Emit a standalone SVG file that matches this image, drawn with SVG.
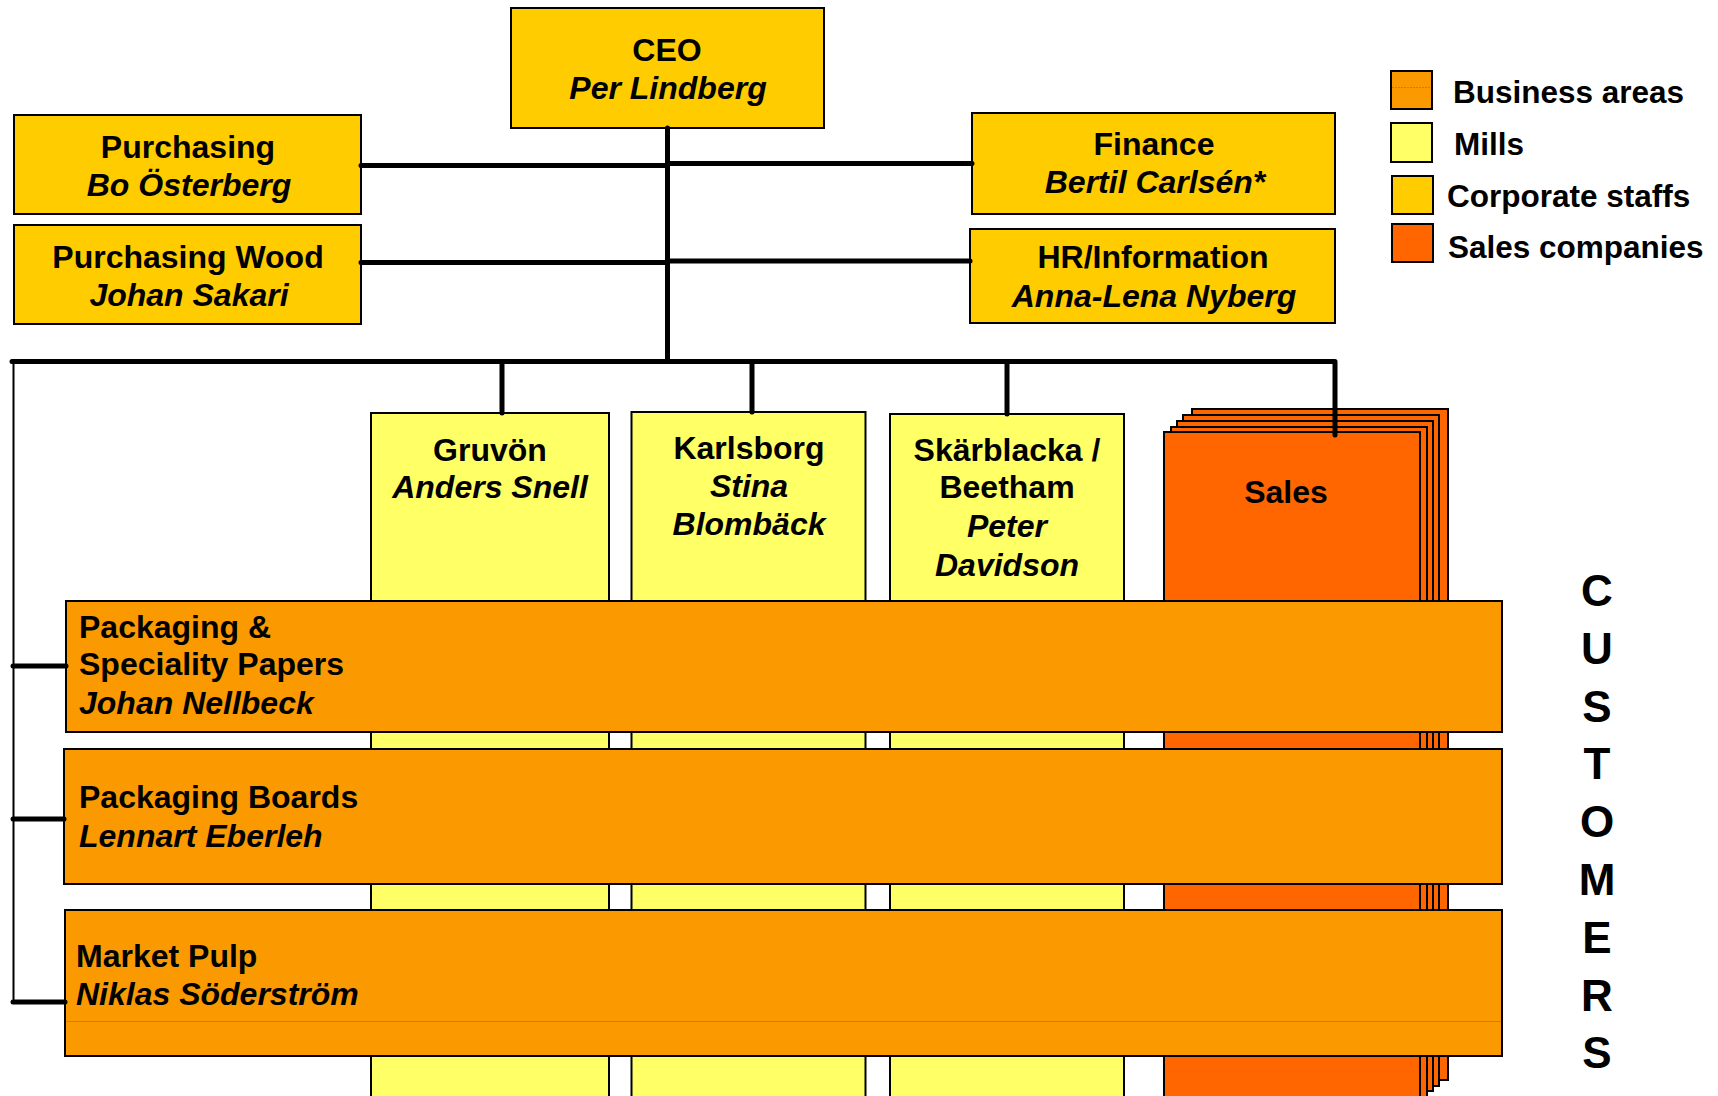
<svg xmlns="http://www.w3.org/2000/svg" width="1718" height="1096" viewBox="0 0 1718 1096">
<style>
text{font-family:"Liberation Sans",Arial,sans-serif;font-weight:bold;font-size:32px;fill:#000}
.c{text-anchor:middle}
.i{font-style:italic}
.leg{font-size:31.5px}
.staff{fill:#FFCC00;stroke:#000;stroke-width:2}
.mill{fill:#FFFF66;stroke:#000;stroke-width:2}
.sales{fill:#FF6600;stroke:#000;stroke-width:2}
.ba{fill:#FA9A00;stroke:#000;stroke-width:2}
.thick{stroke:#000;stroke-width:5;fill:none;stroke-linecap:round;stroke-linejoin:round}
.thin{stroke:#000;stroke-width:2;fill:none}
.grey{stroke:#888;stroke-width:1.2}
.cust{font-size:44px}
</style>
<rect width="1718" height="1096" fill="#fff"/>

<g id="mill-gruvon">
<rect class="mill" x="371" y="413" width="238" height="700"/>
<text class="c" x="490" y="461">Gruvön</text>
<text class="c i" x="490" y="498">Anders Snell</text>
</g>
<g id="mill-karlsborg">
<rect class="mill" x="631.5" y="412" width="234" height="700"/>
<text class="c" x="749" y="459">Karlsborg</text>
<text class="c i" x="749" y="497">Stina</text>
<text class="c i" x="749" y="535">Blombäck</text>
</g>
<g id="mill-skarblacka">
<rect class="mill" x="890" y="414" width="234" height="700"/>
<text class="c" x="1007" y="461">Skärblacka /</text>
<text class="c" x="1007" y="498">Beetham</text>
<text class="c i" x="1007" y="537">Peter</text>
<text class="c i" x="1007" y="576">Davidson</text>
</g>
<g id="sales">
<rect class="sales" x="1192" y="409" width="256" height="671"/>
<rect class="sales" x="1183" y="415" width="256" height="671"/>
<rect class="sales" x="1177" y="421" width="256" height="670"/>
<rect class="sales" x="1171" y="427" width="256" height="680"/>
<rect class="sales" x="1164" y="432" width="256" height="680"/>
<text class="c" x="1286" y="503">Sales</text>
</g>

<g id="ba-packaging-papers">
<rect class="ba" x="66" y="601" width="1436" height="131"/>
<text x="79" y="638">Packaging &amp;</text>
<text x="79" y="675">Speciality Papers</text>
<text class="i" x="79" y="714">Johan Nellbeck</text>
</g>
<g id="ba-packaging-boards">
<rect class="ba" x="64" y="749" width="1438" height="135"/>
<text x="79" y="808">Packaging Boards</text>
<text class="i" x="79" y="847">Lennart Eberleh</text>
</g>
<g id="ba-market-pulp">
<rect class="ba" x="65" y="910" width="1437" height="146"/>
<line class="grey" x1="66" y1="1021.5" x2="1501" y2="1021.5"/>
<text x="76" y="967">Market Pulp</text>
<text class="i" x="76" y="1005">Niklas Söderström</text>
</g>

<g id="ceo">
<rect class="staff" x="511" y="8" width="313" height="120"/>
<text class="c" x="667" y="61">CEO</text>
<text class="c i" x="668" y="99">Per Lindberg</text>
</g>
<g id="purchasing">
<rect class="staff" x="14" y="115" width="347" height="99"/>
<text class="c" x="188" y="158">Purchasing</text>
<text class="c i" x="189" y="196">Bo Österberg</text>
</g>
<g id="purchasing-wood">
<rect class="staff" x="14" y="225" width="347" height="99"/>
<text class="c" x="188" y="268">Purchasing Wood</text>
<text class="c i" x="189" y="306">Johan Sakari</text>
</g>
<g id="finance">
<rect class="staff" x="972" y="113" width="363" height="101"/>
<text class="c" x="1154" y="155">Finance</text>
<text class="c i" x="1155" y="193">Bertil Carlsén*</text>
</g>
<g id="hr">
<rect class="staff" x="970" y="229" width="365" height="94"/>
<text class="c" x="1153" y="268">HR/Information</text>
<text class="c i" x="1154" y="307">Anna-Lena Nyberg</text>
</g>

<g id="connectors">
<line class="thick" x1="667.5" y1="128" x2="667.5" y2="361.5"/>
<line class="thick" x1="361" y1="165.5" x2="667.5" y2="165.5"/>
<line class="thick" x1="667.5" y1="163.5" x2="972" y2="163.5"/>
<line class="thick" x1="361" y1="262.5" x2="667.5" y2="262.5"/>
<line class="thick" x1="667.5" y1="261" x2="970" y2="261"/>
<polyline class="thick" points="12,361.5 1335,361.5 1335,435"/>
<line class="thick" x1="502" y1="361.5" x2="502" y2="413"/>
<line class="thick" x1="752" y1="361.5" x2="752" y2="412"/>
<line class="thick" x1="1007" y1="361.5" x2="1007" y2="414"/>
<line class="thin" x1="13.5" y1="361.5" x2="13.5" y2="1002"/>
<line class="thick" x1="13" y1="666" x2="66" y2="666"/>
<line class="thick" x1="13" y1="819" x2="64" y2="819"/>
<line class="thick" x1="13" y1="1002" x2="65" y2="1002"/>
</g>

<g id="legend">
<rect class="ba" x="1391" y="71" width="41" height="38"/>
<line class="grey" x1="1392" y1="87.5" x2="1431" y2="87.5" stroke-dasharray="2,1"/>
<rect class="mill" x="1391" y="123" width="41" height="39"/>
<rect class="staff" x="1392" y="176" width="41" height="38"/>
<rect class="sales" x="1392" y="224" width="41" height="38"/>
<text class="leg" x="1453" y="103">Business areas</text>
<text class="leg" x="1454" y="155">Mills</text>
<text class="leg" x="1447" y="207">Corporate staffs</text>
<text class="leg" x="1448" y="258">Sales companies</text>
</g>

<g id="customers">
<text class="c cust" x="1597" y="606">C</text>
<text class="c cust" x="1597" y="664">U</text>
<text class="c cust" x="1597" y="722">S</text>
<text class="c cust" x="1597" y="779">T</text>
<text class="c cust" x="1597" y="837">O</text>
<text class="c cust" x="1597" y="895">M</text>
<text class="c cust" x="1597" y="953">E</text>
<text class="c cust" x="1597" y="1011">R</text>
<text class="c cust" x="1597" y="1068">S</text>
</g>
</svg>
